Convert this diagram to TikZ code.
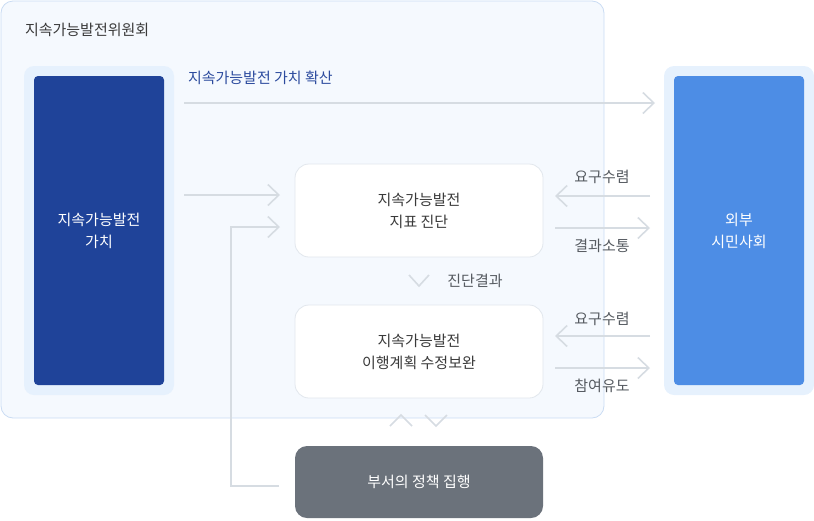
\documentclass[tikz,border=0pt]{standalone}
\usepackage{fontspec}
\setmainfont{Noto Sans CJK KR}
\usetikzlibrary{arrows.meta}
\definecolor{commfill}{HTML}{F5F9FE}
\definecolor{commline}{HTML}{CADCF3}
\definecolor{halo}{HTML}{E6F1FD}
\definecolor{darkblue}{HTML}{1F4399}
\definecolor{midblue}{HTML}{4D8DE5}
\definecolor{linegray}{HTML}{D6DCE2}
\definecolor{boxline}{HTML}{E2E7ED}
\definecolor{txt}{HTML}{3A3A3A}
\definecolor{lbl}{HTML}{555A60}
\definecolor{darkbox}{HTML}{6B727B}
\definecolor{valtxt}{HTML}{2C4B9E}
\begin{document}
\begin{tikzpicture}[x=1pt,y=-1pt,
  every node/.style={inner sep=0pt, outer sep=0pt},
  halobox/.style={fill=halo, rounded corners=10pt, minimum width=150pt, minimum height=329pt},
  colbox/.style={rounded corners=4pt, minimum width=130pt, minimum height=309pt, text=white, align=center, font=\fontsize{15}{22}\selectfont},
  stepbox/.style={fill=white, draw=boxline, line width=0.8pt, rounded corners=14pt, minimum width=248pt, minimum height=93pt, text=txt, align=center, font=\fontsize{15}{22}\selectfont},
  lab/.style={text=lbl, font=\fontsize{15}{18}\selectfont},
  conn/.style={draw=linegray, line width=1.6pt, -{Straight Barb[length=11pt,width=21pt,line width=1.6pt]}},
  chev/.style={draw=linegray, line width=1.6pt, line join=miter}
]
\useasboundingbox (0,0) rectangle (814,520);
% committee area
\node[fill=commfill, draw=commline, line width=0.8pt, rounded corners=12pt, minimum width=603pt, minimum height=417pt] (comm) at (302.5,209.5) {};
\node[anchor=west, text=txt, font=\fontsize{15}{18}\selectfont] (commtitle) at (25,30) {지속가능발전위원회};
% left value column
\node[halobox] (lhalo) at (99,230.5) {};
\node[colbox, fill=darkblue] (value) at (99,230.5) {지속가능발전\\가치};
% right civil society column
\node[halobox] (rhalo) at (739,230.5) {};
\node[colbox, fill=midblue] (civil) at (739,230.5) {외부\\시민사회};
% value spread
\node[anchor=west, text=valtxt, font=\fontsize{15}{18}\selectfont] (spread) at (188,78) {지속가능발전 가치 확산};
\coordinate (s1) at (184,103);
\coordinate (s2) at (655,103);
\draw[conn] (s1) -- (s2);
% step boxes
\node[stepbox] (diag) at (419,210.5) {지속가능발전\\지표 진단};
\node[stepbox] (plan) at (419,351.5) {지속가능발전\\이행계획 수정보완};
\node[fill=darkbox, rounded corners=12pt, minimum width=248pt, minimum height=72pt, text=white, font=\fontsize{15}{18}\selectfont] (exec) at (419,482) {부서의 정책 집행};
% value -> diag
\coordinate (v1) at (184,195);
\coordinate (v2) at (280,195);
\draw[conn] (v1) -- (v2);
% exec -> diag feedback
\coordinate (e1) at (279,486);
\coordinate (e2) at (231,486);
\coordinate (e3) at (231,227);
\coordinate (e4) at (280,227);
\draw[conn] (e1) -- (e2) -- (e3) -- (e4);
% diag <-> civil
\coordinate (a1) at (650,196);
\coordinate (a2) at (555,196);
\draw[conn] (a1) -- (a2);
\node[lab] (l1) at (602,177) {요구수렴};
\coordinate (b1) at (555,228);
\coordinate (b2) at (650,228);
\draw[conn] (b1) -- (b2);
\node[lab] (l2) at (602,246) {결과소통};
% plan <-> civil
\coordinate (c1) at (650,336);
\coordinate (c2) at (555,336);
\draw[conn] (c1) -- (c2);
\node[lab] (l3) at (602,319) {요구수렴};
\coordinate (d1) at (555,368);
\coordinate (d2) at (650,368);
\draw[conn] (d1) -- (d2);
\node[lab] (l4) at (602,386) {참여유도};
% diag -> plan chevron
\draw[chev] (409,275) -- (419,286) -- (429,275);
\node[lab] (l5) at (475,281) {진단결과};
% plan <-> exec chevrons
\draw[chev] (390,426) -- (401,415) -- (412,426);
\draw[chev] (425,415) -- (436,426) -- (447,415);
\end{tikzpicture}
\end{document}
